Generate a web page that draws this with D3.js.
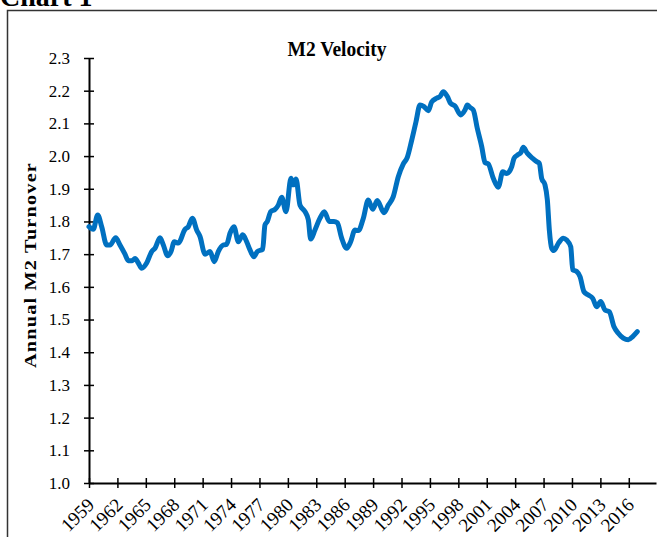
<!DOCTYPE html>
<html>
<head>
<meta charset="utf-8">
<script src="https://cdn.jsdelivr.net/npm/d3@7"></script>
<style>
  body { margin: 0; background: #fff; }
  svg { display: block; }
  text { font-family: "Liberation Serif", "Times New Roman", serif; }
</style>
</head>
<body>
<div id="chart"></div>
<script>
// M2 velocity (decimal year, turnover)
const years = [
  1959.00, 1959.45, 1959.92, 1960.34, 1960.87, 1961.22, 1961.82, 1962.27, 1962.80, 1963.15,
  1963.57, 1963.86, 1964.21, 1964.56, 1965.09, 1965.62, 1965.97, 1966.50, 1966.85, 1967.31,
  1967.66, 1968.01, 1968.43, 1969.14, 1969.49, 1969.91, 1970.37, 1970.72, 1971.25, 1971.78,
  1972.23, 1972.65, 1973.18, 1973.54, 1973.89, 1974.31, 1974.77, 1975.23, 1975.65, 1976.00,
  1976.42, 1976.77, 1977.34, 1977.58, 1977.83, 1978.19, 1978.64, 1978.99, 1979.35, 1979.80,
  1980.33, 1980.57, 1980.86, 1981.28, 1981.81, 1982.16, 1982.41, 1982.86, 1983.39, 1983.85,
  1984.37, 1984.87, 1985.22, 1985.68, 1986.21, 1986.63, 1987.09, 1987.44, 1987.97, 1988.49,
  1988.96, 1989.44, 1990.15, 1990.61, 1991.13, 1991.66, 1992.19, 1992.61, 1993.08, 1993.53,
  1993.95, 1994.38, 1994.83, 1995.19, 1995.72, 1996.06, 1996.41, 1996.84, 1997.19, 1997.65,
  1998.25, 1998.70, 1998.95, 1999.23, 1999.58, 2000.00, 2000.47, 2000.82, 2001.16, 2001.69,
  2002.22, 2002.69, 2003.11, 2003.64, 2003.88, 2004.23, 2004.59, 2004.86, 2005.28, 2005.85,
  2006.28, 2006.55, 2006.80, 2007.15, 2007.40, 2007.61, 2007.86, 2008.10, 2008.56, 2009.08,
  2009.44, 2009.87, 2010.08, 2010.50, 2010.85, 2011.27, 2011.73, 2012.19, 2012.61, 2013.03,
  2013.49, 2013.94, 2014.44, 2014.89, 2015.42, 2015.95, 2016.41, 2016.90
];
const velocity = [
  1.784, 1.776, 1.820, 1.784, 1.728, 1.728, 1.750, 1.728, 1.700, 1.680,
  1.680, 1.687, 1.673, 1.657, 1.673, 1.708, 1.718, 1.750, 1.728, 1.695,
  1.708, 1.738, 1.734, 1.776, 1.784, 1.810, 1.774, 1.754, 1.700, 1.708,
  1.677, 1.708, 1.728, 1.730, 1.764, 1.784, 1.738, 1.759, 1.738, 1.713,
  1.692, 1.708, 1.715, 1.789, 1.800, 1.830, 1.837, 1.850, 1.874, 1.830,
  1.932, 1.912, 1.930, 1.850, 1.830, 1.805, 1.746, 1.774, 1.810, 1.830,
  1.800, 1.800, 1.796, 1.749, 1.718, 1.738, 1.774, 1.772, 1.810, 1.866,
  1.837, 1.864, 1.827, 1.850, 1.876, 1.937, 1.976, 1.996, 2.049, 2.105,
  2.156, 2.151, 2.139, 2.166, 2.177, 2.182, 2.197, 2.182, 2.161, 2.153,
  2.126, 2.141, 2.156, 2.149, 2.141, 2.085, 2.029, 1.980, 1.976, 1.932,
  1.905, 1.952, 1.947, 1.968, 1.993, 2.003, 2.010, 2.027, 2.009, 1.993,
  1.983, 1.978, 1.932, 1.912, 1.866, 1.774, 1.718, 1.711, 1.733, 1.749,
  1.743, 1.723, 1.652, 1.647, 1.631, 1.585, 1.575, 1.565, 1.539, 1.555,
  1.529, 1.524, 1.478, 1.458, 1.443, 1.438, 1.448, 1.463
];
const yTicks = [1.0, 1.1, 1.2, 1.3, 1.4, 1.5, 1.6, 1.7, 1.8, 1.9, 2.0, 2.1, 2.2, 2.3];
const xTicks = [1959, 1962, 1965, 1968, 1971, 1974, 1977, 1980, 1983, 1986, 1989,
  1992, 1995, 1998, 2001, 2004, 2007, 2010, 2013, 2016];

const W = 657, H = 537;
const svg = d3.select('#chart').append('svg')
  .attr('width', W)
  .attr('height', H);

// caption, cut off at the top as in the source
svg.append('text')
  .attr('x', 0)
  .attr('y', 6)
  .style('font-size', '28px')
  .style('font-weight', 'bold')
  .text('Chart 1');

// outer frame (right and bottom run off the page)
svg.append('rect')
  .attr('x', 7.5).attr('y', 10.5)
  .attr('width', 680).attr('height', 560)
  .attr('fill', 'none')
  .attr('stroke', '#333')
  .attr('stroke-width', 1.5);

const x0 = 89, x1 = 656, yTop = 58, yBot = 483;

//scale x (years)
const x = d3.scaleLinear().domain([1959, 1959 + (x1 - x0) / 9.47]).range([x0, x1]);
//scale y
const y = d3.scaleLinear().domain([1.0, 2.3]).range([yBot, yTop]);

//add Y-axis
const yAxis = svg.append('g')
  .attr('transform', `translate(${x0}, 0)`)
  .call(d3.axisLeft(y).tickValues(yTicks).tickFormat(d3.format('.1f')).tickSize(0).tickPadding(19));
yAxis.select('.domain').attr('stroke', '#000').attr('stroke-width', 2);
yAxis.selectAll('text')
  .attr('fill', '#000')
  .style('font-size', '17px')
  .style('font-family', '"Liberation Serif", serif');
yAxis.selectAll('.tick')
  .append('line')
  .attr('x1', -5).attr('x2', 5)
  .attr('stroke', '#000').attr('stroke-width', 1.5);

//add X-axis
const xAxis = svg.append('g')
  .attr('transform', `translate(0, ${yBot})`)
  .call(d3.axisBottom(x).tickValues(xTicks).tickFormat(d3.format('d')).tickSize(0));
xAxis.select('.domain').attr('stroke', '#000').attr('stroke-width', 2);
xAxis.selectAll('.tick')
  .append('line')
  .attr('y1', -5).attr('y2', 5)
  .attr('stroke', '#000').attr('stroke-width', 1.5);
xAxis.selectAll('text')
  .attr('fill', '#000')
  .style('font-size', '19px')
  .style('font-family', '"Liberation Serif", serif')
  .style('text-anchor', 'end')
  .attr('x', 0)
  .attr('y', 0)
  .attr('dy', 0)
  .attr('transform', 'translate(6, 23) rotate(-45)');

// title
svg.append('text')
  .attr('x', 337)
  .attr('y', 56)
  .attr('text-anchor', 'middle')
  .attr('textLength', 99)
  .attr('lengthAdjust', 'spacingAndGlyphs')
  .style('font-size', '20px')
  .style('font-weight', 'bold')
  .text('M2 Velocity');

// y label
svg.append('text')
  .attr('transform', 'translate(36, 265) rotate(-90)')
  .attr('text-anchor', 'middle')
  .attr('textLength', 206)
  .attr('lengthAdjust', 'spacingAndGlyphs')
  .style('font-size', '17px')
  .style('font-weight', 'bold')
  .style('letter-spacing', '1px')
  .text('Annual M2 Turnover');

//add line
const line = d3.line()
  .x((d, i) => x(years[i]))
  .y((d) => y(d))
  .curve(d3.curveMonotoneX);

svg.append('path')
  .datum(velocity)
  .attr('d', line)
  .attr('fill', 'none')
  .attr('stroke', '#0070C0')
  .attr('stroke-width', 5)
  .attr('stroke-linejoin', 'round')
  .attr('stroke-linecap', 'round');
</script>
</body>
</html>
